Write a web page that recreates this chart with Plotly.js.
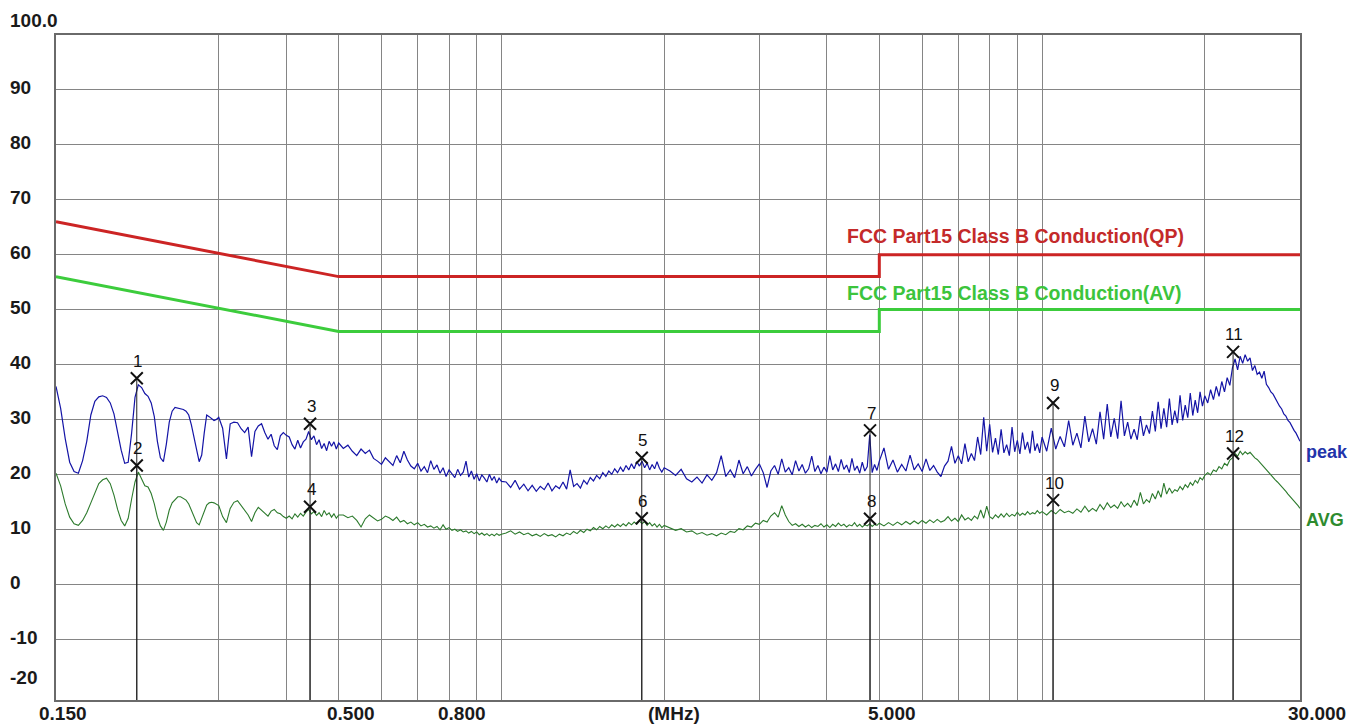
<!DOCTYPE html>
<html><head><meta charset="utf-8">
<script src="https://cdn.plot.ly/plotly-3.0.1.min.js"></script>
<style>html,body{margin:0;padding:0;background:#fff}#chart{width:1365px;height:724px}</style>
</head><body><div id="chart"></div>
<script>
// Frequency samples (MHz)
const freqMHz = [
0.150,0.153,0.156,0.159,0.162,0.165,0.168,0.171,0.174,0.177,0.180,0.183,0.186,0.189,0.192,0.195,0.198,0.201,0.204,0.207,0.210,0.213,0.216,0.219,0.222,0.225,0.228,0.231,0.234,0.237,0.240,0.243,0.246,0.249,0.252,0.255,0.258,0.261,0.264,0.267,0.270,0.273,0.276,0.279,0.282,0.285,0.288,0.291,0.294,0.297,0.300,
0.305,0.310,0.315,0.320,0.325,0.330,0.335,0.340,0.345,0.350,0.355,0.360,0.365,0.370,0.375,0.380,0.385,0.390,0.395,0.400,0.405,0.410,0.415,0.420,0.425,0.430,0.435,0.440,0.445,0.450,0.455,0.460,0.465,0.470,0.475,0.480,0.485,0.490,0.495,0.500,
0.51,0.52,0.53,0.54,0.55,0.56,0.57,0.58,0.59,0.60,0.61,0.62,0.63,0.64,0.65,0.66,0.67,0.68,0.69,0.70,0.71,0.72,0.73,0.74,0.75,0.76,0.77,0.78,0.79,0.80,0.81,0.82,0.83,0.84,0.85,0.86,0.87,0.88,0.89,0.90,0.91,0.92,0.93,0.94,0.95,0.96,0.97,0.98,0.99,1.00,
1.02,1.04,1.06,1.08,1.10,1.12,1.14,1.16,1.18,1.20,1.22,1.24,1.26,1.28,1.30,1.32,1.34,1.36,1.38,1.40,1.42,1.44,1.46,1.48,1.50,1.52,1.54,1.56,1.58,1.60,1.62,1.64,1.66,1.68,1.70,1.72,1.74,1.76,1.78,1.80,1.82,1.84,1.86,1.88,1.90,1.92,1.94,1.96,1.98,2.00,
2.05,2.10,2.15,2.20,2.25,2.30,2.35,2.40,2.45,2.50,2.55,2.60,2.65,2.70,2.75,2.80,2.85,2.90,2.95,3.00,3.05,3.10,3.15,3.20,3.25,3.30,3.35,3.40,3.45,3.50,3.55,3.60,3.65,3.70,3.75,3.80,3.85,3.90,3.95,4.00,4.05,4.10,4.15,4.20,4.25,4.30,4.35,4.40,4.45,4.50,4.55,4.60,4.65,4.70,4.75,4.80,4.85,4.90,4.95,5.00,
5.1,5.2,5.3,5.4,5.5,5.6,5.7,5.8,5.9,6.0,6.1,6.2,6.3,6.4,6.5,6.6,6.7,6.8,6.9,7.0,7.1,7.2,7.3,7.4,7.5,7.6,7.7,7.8,7.9,8.0,8.1,8.2,8.3,8.4,8.5,8.6,8.7,8.8,8.9,9.0,9.1,9.2,9.3,9.4,9.5,9.6,9.7,9.8,9.9,10.0,
10.2,10.4,10.6,10.8,11.0,11.2,11.4,11.6,11.8,12.0,12.2,12.4,12.6,12.8,13.0,13.2,13.4,13.6,13.8,14.0,14.2,14.4,14.6,14.8,15.0,15.2,15.4,15.6,15.8,16.0,16.2,16.4,16.6,16.8,17.0,17.2,17.4,17.6,17.8,18.0,18.2,18.4,18.6,18.8,19.0,19.2,19.4,19.6,19.8,20.0,
20.25,20.5,20.75,21.0,21.25,21.5,21.75,22.0,22.25,22.5,22.75,23.0,23.25,23.5,23.75,24.0,24.25,24.5,24.75,25.0,25.25,25.5,25.75,26.0,26.25,26.5,26.75,27.0,27.25,27.5,27.75,28.0,28.25,28.5,28.75,29.0,29.25,29.5,29.75,30.0
];
// Peak detector level (dBuV)
const peakLevel = [
36.0,32.0,26.5,22.2,20.5,20.2,22.5,26.0,30.8,33.3,34.1,34.3,34.0,33.0,31.0,27.5,24.4,22.0,22.2,27.5,34.0,36.3,35.8,34.7,34.2,33.0,30.5,26.0,23.0,22.3,25.5,29.5,31.5,32.2,32.1,32.0,31.8,31.5,30.8,29.0,27.0,24.5,22.3,23.5,27.5,30.8,30.5,30.1,29.8,30.0,30.4,
28.4,22.8,29.2,29.5,29.4,28.3,27.6,28.6,23.2,27.8,28.8,29.2,27.6,26.4,27.3,25.2,24.5,27.0,27.6,27.1,26.8,25.4,24.6,26.2,24.8,25.9,26.4,27.8,26.3,27.0,25.4,26.3,24.7,25.6,24.3,26.0,25.1,25.9,24.6,25.7,
24.7,25.3,24.2,23.4,24.6,23.8,24.4,22.9,22.4,21.8,23.0,22.3,21.6,23.4,22.1,24.2,22.6,21.5,21.0,22.0,20.6,21.4,20.3,22.5,20.9,21.7,20.2,21.2,19.6,20.8,20.0,19.4,20.9,19.8,20.4,22.4,19.5,20.6,19.1,20.1,18.8,19.9,19.3,18.6,20.0,18.9,19.6,18.4,19.3,18.7,
18.6,17.6,18.9,17.3,18.2,17.0,18.0,16.9,17.8,17.2,18.4,17.0,17.9,17.4,18.6,17.3,20.8,17.8,18.3,17.5,18.9,18.2,19.4,18.8,19.8,19.2,20.3,19.6,20.6,20.0,21.0,20.3,21.3,20.5,21.6,20.8,21.9,21.0,22.3,21.5,22.4,21.2,22.0,20.8,21.8,21.0,22.3,21.1,20.4,21.2,
20.6,19.8,20.9,19.2,18.6,19.5,18.4,19.9,18.9,20.3,23.4,19.6,20.8,19.4,22.6,20.1,21.4,19.7,20.9,21.9,20.3,17.6,20.6,21.6,20.0,22.8,20.4,21.2,19.9,22.5,20.6,21.8,20.2,21.0,23.3,20.5,21.6,20.1,21.3,20.4,23.4,20.8,21.9,20.5,22.7,20.9,21.7,20.3,22.9,20.7,21.5,20.2,22.2,20.6,21.4,27.2,20.3,21.8,20.7,22.4,
24.8,20.9,22.6,20.4,21.8,20.6,23.5,20.8,21.9,20.5,22.8,20.7,21.6,20.4,19.6,21.5,22.4,25.1,22.0,23.4,21.9,25.6,22.3,23.8,22.5,26.8,23.6,30.4,24.2,29.1,24.0,26.6,23.6,28.2,23.9,25.4,23.4,28.6,24.1,26.2,23.7,27.6,24.5,25.9,23.8,27.9,24.3,25.6,23.9,26.8,
24.2,28.4,24.6,26.9,25.0,29.8,25.3,27.5,24.8,30.6,25.9,28.3,25.5,31.4,26.4,32.8,26.8,30.2,26.5,33.4,27.0,29.5,26.4,28.2,26.3,30.6,27.0,29.0,27.4,31.5,27.8,33.2,28.3,32.0,28.6,33.8,29.0,31.6,29.3,34.4,29.8,32.6,30.3,34.8,30.7,33.5,31.2,35.0,32.4,34.3,
33.0,35.4,33.6,36.0,34.2,36.9,35.0,37.6,36.2,39.4,41.0,39.0,41.5,40.2,41.8,40.6,41.2,38.9,39.8,38.2,38.6,37.5,38.8,36.4,35.8,35.0,34.6,33.8,33.2,32.4,31.9,31.0,30.6,29.8,29.4,28.6,28.0,27.5,26.8,26.0
];
// Average detector level (dBuV)
const avgLevel = [
20.2,17.9,14.6,12.2,11.0,10.7,11.6,13.0,14.8,16.6,18.3,19.0,19.3,18.3,16.2,13.6,11.6,10.6,12.0,15.5,18.6,20.4,19.2,17.9,17.7,16.5,14.6,12.2,10.6,9.8,11.3,13.5,14.8,15.4,15.9,15.9,15.6,15.3,14.6,13.4,12.3,11.2,10.8,12.0,13.5,14.4,14.8,14.9,14.8,14.5,14.3,
12.3,11.2,13.8,14.9,15.2,14.3,13.4,12.6,11.4,13.0,14.0,13.4,12.8,12.4,13.3,13.6,13.0,12.8,12.3,12.0,12.4,11.9,12.8,12.2,12.9,12.4,13.1,13.6,12.8,13.2,12.5,13.0,12.3,13.4,12.6,13.0,12.2,12.8,12.0,12.6,
12.6,12.1,12.4,11.6,10.4,11.9,12.6,12.0,11.5,11.8,12.4,12.1,11.6,12.2,11.3,11.6,11.0,11.3,10.8,11.2,10.6,10.9,10.4,10.6,10.2,10.5,9.9,10.8,10.0,10.3,9.8,10.0,9.6,9.9,9.5,9.7,9.3,9.6,9.2,9.5,9.0,9.3,8.9,9.2,8.8,9.1,8.8,9.2,8.9,9.1,
9.3,9.7,9.1,9.5,9.0,9.3,8.8,9.1,8.7,9.2,8.8,9.0,8.6,9.1,8.8,9.3,9.0,9.6,9.2,9.8,9.4,10.0,9.7,10.3,9.9,10.5,10.1,10.6,10.2,10.8,10.4,10.9,10.5,11.0,10.6,11.2,10.8,11.3,10.9,11.5,11.0,11.4,10.7,11.2,10.6,11.0,10.4,10.9,10.3,10.7,
10.2,9.8,10.1,9.5,9.7,9.1,9.4,8.9,9.2,8.8,9.3,9.0,9.6,9.4,10.1,9.9,10.6,10.4,11.1,10.9,11.6,11.3,12.4,13.0,12.2,14.3,12.6,11.4,10.7,11.0,10.5,10.9,10.4,10.8,10.3,10.7,10.5,11.0,10.4,10.8,10.3,10.9,10.5,11.1,10.6,10.9,10.4,10.8,10.6,11.2,10.5,10.9,10.4,10.8,10.6,11.0,10.5,10.9,10.7,11.1,
10.6,11.2,10.7,11.3,10.8,11.4,10.9,11.5,11.0,11.6,11.1,11.7,11.2,11.8,11.3,11.6,12.3,11.5,12.0,11.4,12.6,11.7,12.1,11.6,12.4,11.9,13.5,12.0,14.2,12.3,11.9,12.6,12.1,12.8,12.2,12.9,12.3,12.7,12.4,13.1,12.5,12.9,12.6,13.2,12.7,13.0,12.8,13.4,12.9,13.2,
12.6,13.4,12.8,13.6,13.0,13.3,12.9,13.7,13.1,14.2,13.2,13.8,13.3,14.5,13.6,14.8,13.9,14.4,13.8,15.0,14.1,14.7,14.0,15.3,14.3,16.7,14.6,15.4,14.9,16.5,15.5,17.0,15.8,18.4,16.4,17.5,16.6,17.2,16.9,17.8,17.2,18.1,17.6,18.5,18.0,18.9,18.4,19.4,19.0,19.8,
20.3,19.9,20.8,20.5,21.4,21.0,22.0,21.6,22.6,23.0,23.8,23.3,24.2,23.6,24.1,23.7,24.0,23.4,23.0,22.7,22.2,21.8,21.3,20.8,20.4,19.9,19.5,19.0,18.6,18.2,17.8,17.3,16.9,16.4,16.0,15.6,15.2,14.8,14.3,13.8
];
// Limit lines
const limitFreq = [0.15, 0.5, 5, 5, 30];
const qpLimit = [66, 56, 56, 60, 60];
const avLimit = [56, 46, 46, 50, 50];
const qpLabel = 'FCC Part15 Class B Conduction(QP)';
const avLabel = 'FCC Part15 Class B Conduction(AV)';
const limitLabelFreq = 4.32;
// Markers
const markerNum = ['1','2','3','4','5','6','7','8','9','10','11','12'];
const markerFreq = [0.2116,0.2116,0.4426,0.4426,1.818,1.818,4.806,4.806,10.48,10.48,22.56,22.56];
const markerLevel = [37.5,21.6,29.2,14.1,23.0,12.0,28.0,11.9,33.0,15.3,42.3,23.8];
// Axes
const xGridVals = [0.3,0.4,0.5,0.6,0.7,0.8,0.9,1,2,3,4,5,6,7,8,9,10,20];
const yGridVals = [90,80,70,60,50,40,30,20,10,0,-10];
const xTickVals = [0.15,0.5,0.8,2,5,30];
const xTickText = ['0.150','0.500','0.800','(MHz)','5.000','30.000'];
const yTickVals = [100,90,80,70,60,50,40,30,20,10,0,-10,-20];
const yTickText = ['100.0','90','80','70','60','50','40','30','20','10','0','-10','-20'];
const traceNames = ['peak','AVG'];
const traceNameLevel = [24.0, 11.7];

const yRange = [-21.1, 100];
const xRange = [Math.log10(0.15), Math.log10(30)];
const FONT = '"Liberation Sans", Arial, Helvetica, sans-serif';
const plotW = 1365 - 56 - 65;

const traces = [
  {x: limitFreq, y: qpLimit, mode: 'lines', line: {color: '#cc2424', width: 3}, hoverinfo: 'skip'},
  {x: limitFreq, y: avLimit, mode: 'lines', line: {color: '#3ccc3c', width: 3}, hoverinfo: 'skip'},
  {x: freqMHz, y: avgLevel, mode: 'lines', line: {color: '#2c7a2c', width: 1.1}, name: 'AVG'},
  {x: freqMHz, y: peakLevel, mode: 'lines', line: {color: '#1414a6', width: 1.2}, name: 'peak'}
];
// marker vertical lines
const mlx = [], mly = [];
markerFreq.forEach((f, i) => { mlx.push(f, f, null); mly.push(markerLevel[i], yRange[0], null); });
traces.push({x: mlx, y: mly, mode: 'lines', line: {color: '#222', width: 1}, hoverinfo: 'skip'});
traces.push({x: markerFreq, y: markerLevel, mode: 'markers',
  marker: {symbol: 'x-thin', size: 12, color: '#111', line: {width: 2, color: '#111'}}, hoverinfo: 'skip'});

const ann = [];
yTickVals.forEach((v, i) => {
  let ys = 2;
  if (i === 0) ys = 15;
  if (v === -20) ys = 16;
  ann.push({xref: 'paper', yref: 'y', x: -48 / plotW, y: v, xanchor: 'left', yanchor: 'middle', yshift: ys,
    text: yTickText[i], showarrow: false, font: {family: FONT, size: 19, weight: 'bold', color: '#1a1a1a'}});
});
const xShifts = [7, 12, 13, 10, 13, 17];
xTickVals.forEach((v, i) => {
  ann.push({xref: 'x', yref: 'paper', x: Math.log10(v), y: 0, xanchor: 'center', yanchor: 'top', xshift: xShifts[i], yshift: -1,
    text: xTickText[i], showarrow: false, font: {family: FONT, size: 19, weight: 'bold', color: '#1a1a1a'}});
});
markerFreq.forEach((f, i) => {
  ann.push({xref: 'x', yref: 'y', x: Math.log10(f), y: markerLevel[i], xanchor: 'center', yanchor: 'middle', yshift: 17, xshift: 1,
    text: markerNum[i], showarrow: false, font: {family: FONT, size: 17, color: '#111'}});
});
ann.push({xref: 'x', yref: 'y', x: Math.log10(limitLabelFreq), y: qpLimit[4], xanchor: 'left', yanchor: 'middle', yshift: 19,
  text: qpLabel, showarrow: false, font: {family: FONT, size: 19.5, weight: 'bold', color: '#c42a2a'}});
ann.push({xref: 'x', yref: 'y', x: Math.log10(limitLabelFreq), y: avLimit[4], xanchor: 'left', yanchor: 'middle', yshift: 17,
  text: avLabel, showarrow: false, font: {family: FONT, size: 19.5, weight: 'bold', color: '#3cc43c'}});
const nameColors = ['#2233aa', '#2e8b2e'];
traceNames.forEach((n, i) => {
  ann.push({xref: 'paper', yref: 'y', x: 1, y: traceNameLevel[i], xanchor: 'left', yanchor: 'middle', xshift: 4,
    text: n, showarrow: false, font: {family: FONT, size: 18, weight: 'bold', color: nameColors[i]}});
});

const layout = {
  width: 1365, height: 724,
  margin: {l: 56, r: 65, t: 35, b: 24, pad: 0},
  paper_bgcolor: '#ffffff', plot_bgcolor: '#ffffff',
  showlegend: false,
  font: {family: FONT, color: '#111'},
  xaxis: {type: 'log', range: xRange, tickmode: 'array', tickvals: xGridVals, showticklabels: false, ticks: '',
    showgrid: true, gridcolor: '#858585', gridwidth: 1, showline: true, mirror: true, linecolor: '#6a6a6a', linewidth: 2, zeroline: false},
  yaxis: {range: yRange, tickmode: 'array', tickvals: yGridVals, showticklabels: false, ticks: '',
    showgrid: true, gridcolor: '#858585', gridwidth: 1, showline: true, mirror: true, linecolor: '#6a6a6a', linewidth: 2, zeroline: false},
  annotations: ann
};
Plotly.newPlot('chart', traces, layout, {displayModeBar: false, staticPlot: true});
</script>
</body></html>
